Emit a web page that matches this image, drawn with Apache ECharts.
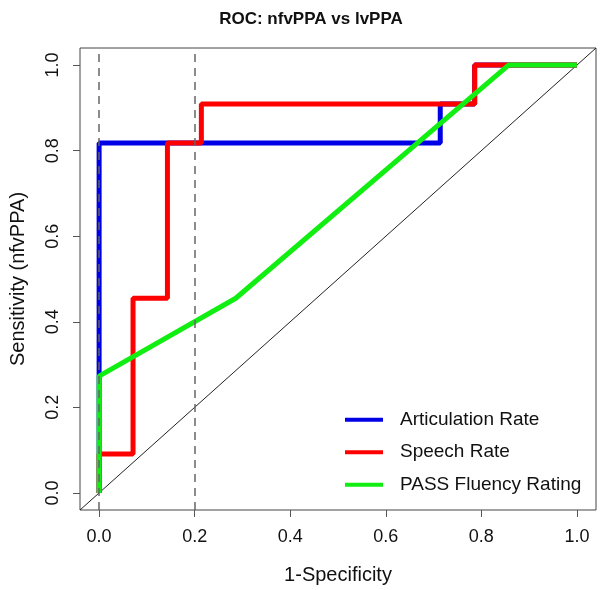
<!DOCTYPE html>
<html>
<head>
    <meta charset="utf-8" />
    <title>ROC</title>
    <script src="https://cdn.jsdelivr.net/npm/echarts@6/dist/echarts.min.js"></script>
</head>
<body style="margin:0;background:#fff">
    <div id="main" style="width:600px;height:590px;"></div>
    <script type="text/javascript">
        // 1-specificity / sensitivity points of each curve
        var artFpr = [0, 0, 0.714, 0.714, 0.786, 0.786, 1];
        var artTpr = [0, 0.818, 0.818, 0.909, 0.909, 1, 1];
        var speechFpr = [0, 0, 0.071, 0.071, 0.143, 0.143, 0.214, 0.214, 0.786, 0.786, 1];
        var speechTpr = [0, 0.091, 0.091, 0.455, 0.455, 0.818, 0.818, 0.909, 0.909, 1, 1];
        var passFpr = [0, 0, 0.286, 0.857, 1];
        var passTpr = [0, 0.273, 0.455, 1, 1];
        var tickValues = [0, 0.2, 0.4, 0.6, 0.8, 1.0];
        var cutoffs = [0, 0.2];
        var diagonal = [-0.04, 1.04];

        function pairs(xs, ys) {
            var out = [];
            for (var i = 0; i < xs.length; i++) out.push([xs[i], ys[i]]);
            return out;
        }

        var chart = echarts.init(document.getElementById('main'));
        var font = 'Liberation Sans, Arial, sans-serif';

        function axis(name, isY) {
            return {
                type: 'value',
                min: -0.04,
                max: 1.04,
                name: name,
                nameLocation: 'middle',
                nameGap: isY ? 52 : 55,
                nameRotate: isY ? 90 : 0,
                nameTextStyle: { fontFamily: font, fontSize: 20, color: '#111' },
                axisLine: { show: false, onZero: false },
                splitLine: { show: false },
                axisTick: { show: true, length: 7, customValues: tickValues, lineStyle: { color: '#555' } },
                axisLabel: {
                    customValues: tickValues,
                    rotate: isY ? 90 : 0,
                    margin: 18,
                    fontFamily: font, fontSize: 18, color: '#111',
                    formatter: function (v) { return v.toFixed(1); }
                }
            };
        }

        var option = {
            animation: false,
            title: {
                text: 'ROC: nfvPPA vs lvPPA',
                left: 306, top: 6, textAlign: 'center',
                textStyle: { fontFamily: font, fontSize: 17, fontWeight: 'bold', color: '#111' }
            },
            grid: { left: 78, right: 4, top: 48, bottom: 78, show: true, borderColor: '#444', borderWidth: 1 },
            xAxis: axis('1-Specificity', false),
            yAxis: axis('Sensitivity (nfvPPA)', true),
            legend: {
                orient: 'vertical',
                left: 340, top: 404,
                icon: 'rect',
                itemWidth: 38, itemHeight: 4, itemGap: 11,
                textStyle: { fontFamily: font, fontSize: 19, lineHeight: 21.5, color: '#111', padding: [0, 0, 0, 12] },
                data: ['Articulation Rate', 'Speech Rate', 'PASS Fluency Rating']
            },
            series: [{
                type: 'line', silent: true, symbol: 'none',
                lineStyle: { color: '#222', width: 1 },
                data: pairs(diagonal, diagonal)
            }, {
                name: 'Articulation Rate', type: 'line', symbol: 'none', color: '#0000e6',
                lineStyle: { width: 5 },
                data: pairs(artFpr, artTpr)
            }, {
                name: 'Speech Rate', type: 'line', symbol: 'none', color: '#ff0000',
                lineStyle: { width: 5 },
                data: pairs(speechFpr, speechTpr)
            }, {
                name: 'PASS Fluency Rating', type: 'line', symbol: 'none', color: '#11ee11',
                lineStyle: { width: 5 },
                data: pairs(passFpr, passTpr),
                markLine: {
                    silent: true, symbol: 'none', label: { show: false },
                    lineStyle: { color: '#666', type: [8, 6], width: 1.5 },
                    data: cutoffs.map(function (c) { return { xAxis: c }; })
                }
            }]
        };
        chart.setOption(option);
    </script>
</body>
</html>
